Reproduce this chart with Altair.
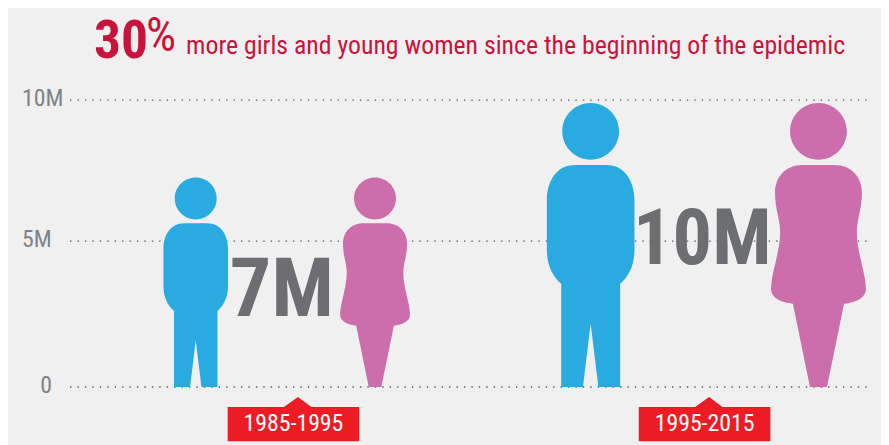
import altair as alt
import pandas as pd

periods = ["1985-1995", "1985-1995", "1995-2015", "1995-2015"]
sexes = ["Boys", "Girls", "Boys", "Girls"]
slots = [0, 1, 2, 3]
heights = [7.3, 7.3, 9.9, 9.9]  # millions, height of each figure
tick_values = [0, 5, 10]
tick_labels = ["0", "5M", "10M"]
period_labels = ["1985-1995", "1995-2015"]
period_slots = [0.545, 2.5]
total_labels = ["7M", "10M"]
total_slots = [0.48, 2.49]

HEAD = "M -0.2 -1.8 A 0.2 0.2 0 1 1 0.2 -1.8 A 0.2 0.2 0 1 1 -0.2 -1.8 Z "
BOY = HEAD + (
    "M -0.11 -1.564 L 0.11 -1.564 C 0.24 -1.564 0.3085 -1.45 0.3085 -1.3155 "
    "L 0.3085 -0.964 C 0.3085 -0.85 0.26 -0.77 0.2075 -0.727 L 0.2075 0 L 0.0545 0 "
    "L 0 -0.445 L -0.0545 0 L -0.2075 0 L -0.2075 -0.727 "
    "C -0.26 -0.77 -0.3085 -0.85 -0.3085 -0.964 L -0.3085 -1.3155 "
    "C -0.3085 -1.45 -0.24 -1.564 -0.11 -1.564 Z"
)
GIRL = HEAD + (
    "M -0.11 -1.564 L 0.11 -1.564 C 0.24 -1.564 0.306 -1.47 0.306 -1.37 "
    "C 0.306 -1.25 0.27 -1.18 0.27 -1.09 C 0.27 -0.95 0.334 -0.8 0.334 -0.69 "
    "C 0.334 -0.62 0.24 -0.59 0.18 -0.586 L 0.06 0 L -0.06 0 L -0.18 -0.586 "
    "C -0.24 -0.59 -0.334 -0.62 -0.334 -0.69 C -0.334 -0.8 -0.27 -0.95 -0.27 -1.09 "
    "C -0.27 -1.18 -0.306 -1.25 -0.306 -1.37 C -0.306 -1.47 -0.24 -1.564 -0.11 -1.564 Z"
)
CHIP = ("M -1.316 0.4 L -0.19 0.4 L 0.09 0.2 L 0.36 0.4 L 1.316 0.4 "
        "L 1.316 1.086 L -1.316 1.086 Z")

FONT = "Roboto Condensed"
RED = "#C8143C"
GREY = "#6D6E71"
K = 1.009

xscale = alt.Scale(domain=[-1, 0, 1, 2, 3, 4],
                   range=[62.63, 189.46, 370.4, 588.0, 817.9, 869.8],
                   zero=False, nice=False)
yscale = alt.Scale(domain=[0, 5, 10], range=[380.5, 233.2, 90.9], zero=False, nice=False)


def X(f):
    return alt.X(f, scale=xscale, axis=None)


def Y(f):
    return alt.Y(f, scale=yscale, axis=None)


figures = pd.DataFrame({"period": periods, "sex": sexes, "slot": slots,
                        "value": heights, "base": [0] * 4})
grid = pd.DataFrame({"tick": tick_values, "label": tick_labels, "x0": [-1] * 3, "x1": [4] * 3})
chips = pd.DataFrame({"label": period_labels, "slot": period_slots, "base": [0, 0]})
totals = pd.DataFrame({"label": total_labels, "slot": total_slots, "base": [0, 0]})

rules = alt.Chart(grid).mark_rule(color="#55565A", strokeWidth=1.4, strokeDash=[1.4, 6.1]).encode(
    x=X("x0:Q"), x2="x1:Q", y=Y("tick:Q"),
)
tick_text_wide = alt.Chart(grid[grid.tick > 0]).mark_text(
    font=FONT, fontSize=24, color="#808285", align="left", baseline="middle", dy=-1).encode(
    x=alt.value(14.2), y=Y("tick:Q"), text="label:N")
tick_text_zero = alt.Chart(grid[grid.tick == 0]).mark_text(
    font=FONT, fontSize=24, color="#808285", align="left", baseline="middle", dy=-1).encode(
    x=alt.value(32.5), y=Y("tick:Q"), text="label:N")

people = alt.Chart(figures).mark_point(filled=True, opacity=1, strokeWidth=0).encode(
    x=X("slot:Q"), y=Y("base:Q"),
    color=alt.Color("sex:N", scale=alt.Scale(domain=["Boys", "Girls"], range=["#29ABE2", "#CC6EAB"]), legend=None),
    shape=alt.Shape("sex:N", scale=alt.Scale(domain=["Boys", "Girls"], range=[BOY, GIRL]), legend=None),
    size=alt.Size("value:Q", scale=alt.Scale(type="pow", exponent=2, domain=[0, 10], range=[0, 82369 * K * K]), legend=None),
)

chip = alt.Chart(chips).mark_point(filled=True, opacity=1, strokeWidth=0, shape=CHIP, size=10000 * K * K,
                                   color="#ED1C24").encode(x=X("slot:Q"), y=Y("base:Q"))
chip_text = alt.Chart(chips).mark_text(font=FONT, fontSize=24, color="white", dy=37,
                                       baseline="middle").encode(x=X("slot:Q"), y=Y("base:Q"), text="label:N")

seven = alt.Chart(totals[totals.label == "7M"]).mark_text(
    font=FONT, fontWeight="bold", fontSize=83, color=GREY, dy=-97, baseline="middle").encode(
    x=X("slot:Q"), y=Y("base:Q"), text="label:N")
ten = alt.Chart(totals[totals.label == "10M"]).mark_text(
    font=FONT, fontWeight="bold", fontSize=79, color=GREY, dy=-148, baseline="middle").encode(
    x=X("slot:Q"), y=Y("base:Q"), text="label:N")


def title_part(text, x, y, size, weight="normal"):
    return alt.Chart(pd.DataFrame({"t": [text]})).mark_text(
        font=FONT, fontSize=size, fontWeight=weight, color=RED, align="left", baseline="alphabetic"
    ).encode(x=alt.value(x), y=alt.value(y), text="t:N")


t1 = title_part("30", 86.8, 48.5, 54, "bold")
t2 = title_part("%", 139.3, 41, 48)
t3 = title_part("more girls and young women since the beginning of the epidemic", 179.7, 44, 26)

chart = alt.layer(rules, tick_text_wide, tick_text_zero, people, chip, chip_text, seven, ten, t1, t2, t3).properties(
    width=881, height=441, padding=0, background="#F0F0F1",
    autosize=alt.AutoSizeParams(type="none"),
).configure_view(stroke=None)

chart.save("out.html", embed_options={"renderer": "svg", "actions": False})
